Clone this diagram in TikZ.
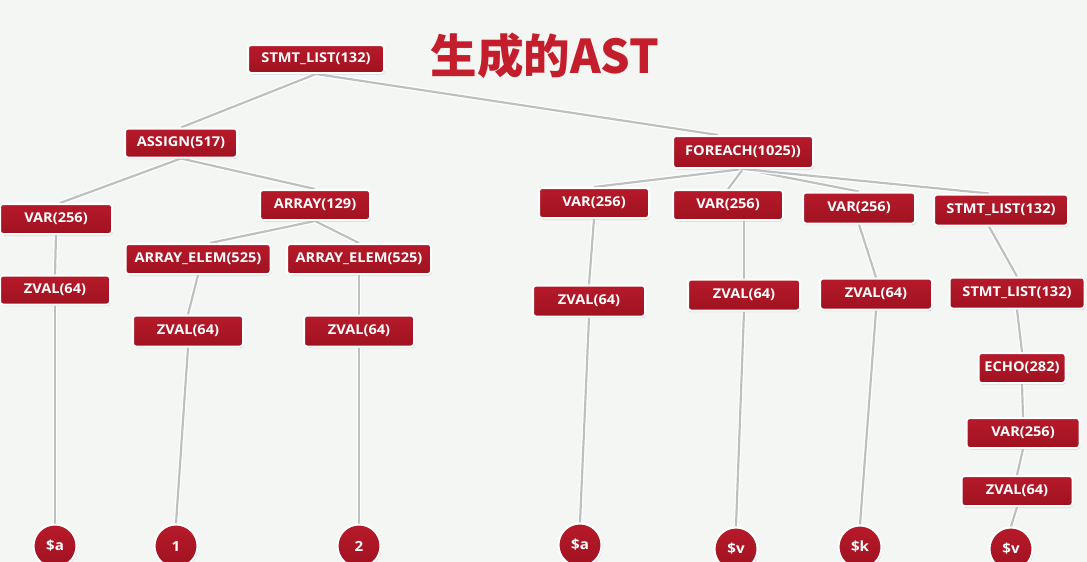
\documentclass[tikz,border=0pt]{standalone}
\usepackage{fontspec}
\setmainfont{Open Sans}[FakeStretch=1.08]
\newfontfamily\cjk{Noto Sans CJK SC}
\usetikzlibrary{shadows}
\pgfdeclarelayer{bgl}
\pgfdeclarelayer{edges}
\pgfsetlayers{bgl,edges,main}
\definecolor{bg}{RGB}{243,246,243}
\definecolor{nodered}{RGB}{182,26,42}
\definecolor{nodereddark}{RGB}{160,18,32}
\definecolor{titlered}{RGB}{196,30,44}
\definecolor{edgegray}{RGB}{190,192,190}
\tikzset{
  astbox/.style={rectangle, rounded corners=3pt, top color=nodered, bottom color=nodereddark,
    draw=white, line width=2pt, inner sep=0pt, text=white,
    font=\bfseries\fontsize{13.5}{15}\selectfont,
    drop shadow={opacity=0.3, shadow xshift=0.8pt, shadow yshift=-1.5pt}},
  astleaf/.style={circle, minimum size=43pt, inner sep=0pt, top color=nodered, bottom color=nodereddark,
    draw=white, line width=2pt, text=white, font=\bfseries\fontsize{14}{16}\selectfont,
    drop shadow={opacity=0.3, shadow xshift=0.8pt, shadow yshift=-1.5pt}},
  astedge/.style={draw=edgegray, line width=2.2pt, preaction={draw=white, line width=4.6pt}},
}
\newcommand{\bx}[5]{\node[astbox, minimum width=#3pt, minimum height=#4pt] (#1) at (#2) {#5};}
\begin{document}
\begin{tikzpicture}[x=1pt,y=-1pt]
\begin{pgfonlayer}{bgl}
\fill[bg] (0,0) rectangle (1087,562);
\end{pgfonlayer}
\useasboundingbox (0,0) rectangle (1087,562);
% title
\node[text=titlered, font=\cjk\bfseries\fontsize{46.5}{50}\selectfont] (title) at (545,56) {生成的AST};
% nodes
\bx{top}{316,59}{136}{28}{STMT\_LIST(132)}
\bx{assign}{181,143}{112}{29}{ASSIGN(517)}
\bx{foreach}{743,152}{140}{32}{FOREACH(1025))}
\bx{vara}{56,219}{112}{30}{VAR(256)}
\bx{array}{315,205}{110}{30}{ARRAY(129)}
\bx{aea}{198,259}{145}{30}{ARRAY\_ELEM(525)}
\bx{aeb}{359,259}{144}{30}{ARRAY\_ELEM(525)}
\bx{zva}{55,290}{110}{29}{ZVAL(64)}
\bx{zvb}{188,331}{110}{31}{ZVAL(64)}
\bx{zvc}{359,331}{110}{31}{ZVAL(64)}
\bx{varb}{594,203}{110}{30}{VAR(256)}
\bx{varc}{728,205}{110}{30}{VAR(256)}
\bx{vard}{859,208}{112}{31}{VAR(256)}
\bx{slb}{1001,210}{134}{31}{STMT\_LIST(132)}
\bx{zvd}{589,301}{112}{31}{ZVAL(64)}
\bx{zve}{744,295}{112}{31}{ZVAL(64)}
\bx{zvf}{876,294}{112}{31}{ZVAL(64)}
\bx{slc}{1017,293}{135}{31}{STMT\_LIST(132)}
\bx{echo}{1022,368}{87}{30}{ECHO(282)}
\bx{vare}{1023,433}{113}{30}{VAR(256)}
\bx{zvg}{1017,491}{111}{30}{ZVAL(64)}
\node[astleaf] (ca) at (55,546) {\$a};
\node[astleaf] (cb) at (176,546) {1};
\node[astleaf] (cc) at (359,546) {2};
\node[astleaf] (cd) at (580,545) {\$a};
\node[astleaf] (ce) at (736,549) {\$v};
\node[astleaf] (cf) at (860,547) {\$k};
\node[astleaf] (cg) at (1011,549) {\$v};
% edges
\begin{pgfonlayer}{edges}
\path[astedge] (top.south) -- (assign.north);
\path[astedge] (top.south) -- ([xshift=-25pt]foreach.north);
\path[astedge] (assign.south) -- ([xshift=4pt]vara.north);
\path[astedge] (assign.south) -- (array.north);
\path[astedge] (array.south) -- ([xshift=12pt]aea.north);
\path[astedge] (array.south) -- (aeb.north);
\path[astedge] (vara.south) -- (zva.north);
\path[astedge] (zva.south) -- (ca.north);
\path[astedge] (aea.south) -- (zvb.north);
\path[astedge] (zvb.south) -- (cb.north);
\path[astedge] (aeb.south) -- (zvc.north);
\path[astedge] (zvc.south) -- (cc.north);
\path[astedge] (foreach.south) -- (varb.north);
\path[astedge] (foreach.south) -- (varc.north);
\path[astedge] (foreach.south) -- (vard.north);
\path[astedge] (foreach.south) -- ([xshift=-12pt]slb.north);
\path[astedge] (varb.south) -- (zvd.north);
\path[astedge] (zvd.south) -- (cd.north);
\path[astedge] (varc.south -| zve.north) -- (zve.north);
\path[astedge] (zve.south) -- (ce.north);
\path[astedge] (vard.south) -- (zvf.north);
\path[astedge] (zvf.south) -- (cf.north);
\path[astedge] ([xshift=-12pt]slb.south) -- (slc.north);
\path[astedge] (slc.south) -- (echo.north);
\path[astedge] (echo.south) -- (vare.north);
\path[astedge] (vare.south) -- (zvg.north);
\path[astedge] (zvg.south) -- (cg.north);
\end{pgfonlayer}
\end{tikzpicture}
\end{document}
